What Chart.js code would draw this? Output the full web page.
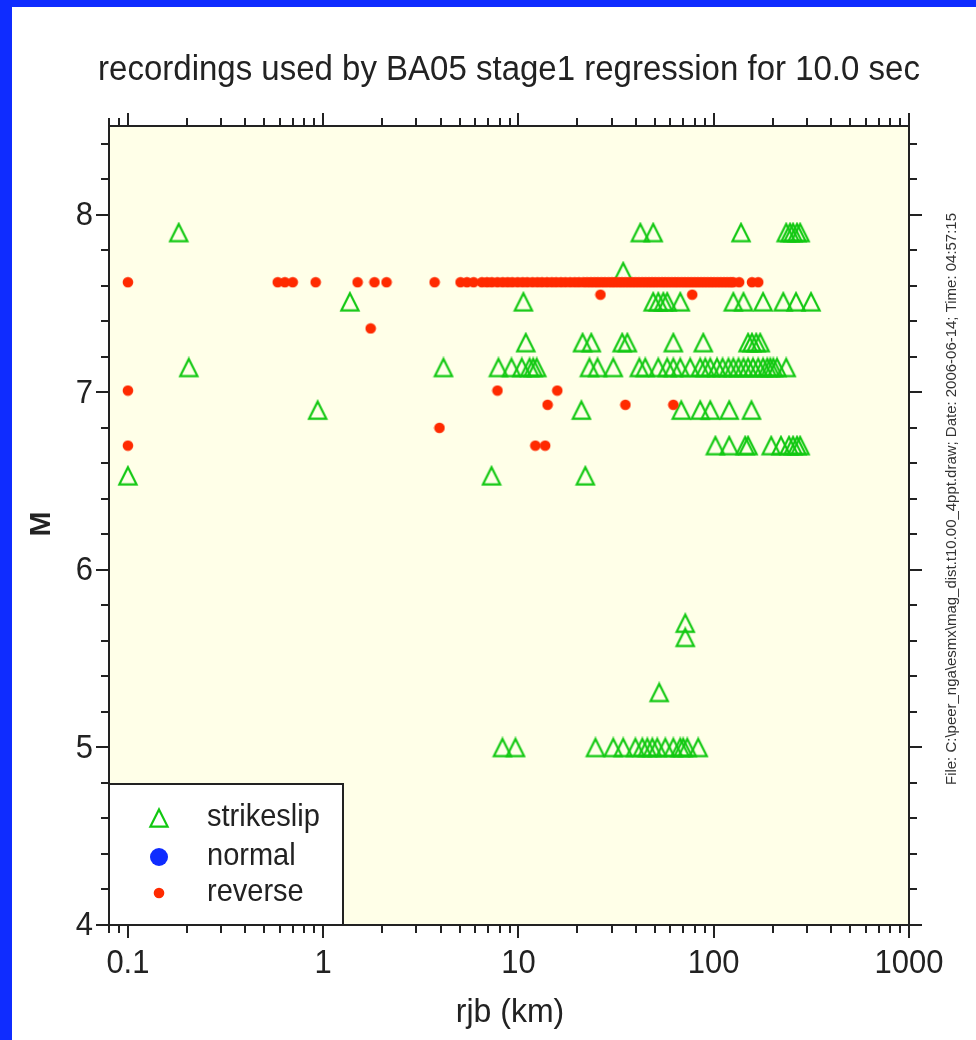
<!DOCTYPE html>
<html><head><meta charset="utf-8">
<script src="https://cdn.jsdelivr.net/npm/chart.js@4.4.1/dist/chart.umd.min.js"></script>
<style>html,body{margin:0;padding:0;background:#fff;}canvas{display:block;}</style>
</head><body>
<canvas id="c" width="976" height="1040"></canvas>
<script>
// ---- texts ----
const titleText = 'recordings used by BA05 stage1 regression for 10.0 sec';
const xAxisTitle = 'rjb (km)';
const yAxisTitle = 'M';
const sideNote = 'File: C:\\peer_nga\\esmx\\mag_dist.t10.00_4ppt.draw; Date: 2006-06-14; Time: 04:57:15';
const legendLabels = ['strikeslip', 'normal', 'reverse'];

// ---- tick labels ----
const xMajorTicks = [0.1, 1, 10, 100, 1000];
const xTickLabels = ['0.1', '1', '10', '100', '1000'];
const yMajorTicks = [4, 5, 6, 7, 8];
const yTickLabels = ['4', '5', '6', '7', '8'];

// ---- strikeslip: magnitude rows and rjb (km) per row ----
const strikeslipMag = [7.9, 7.68, 7.51, 7.28, 7.14, 6.9, 6.7, 6.53, 5.7, 5.62, 5.31, 5.0];
const strikeslipRjb = [
  [0.182, 42.1, 49.0, 138, 235, 246, 255, 267, 277],
  [34.4],
  [1.37, 10.6, 49.0, 52.0, 55.2, 57.8, 67.4, 126, 142, 179, 227, 264, 315],
  [10.9, 21.3, 23.6, 34.0, 36.1, 62.1, 88.4, 150, 157, 165, 173],
  [0.205, 4.13, 7.90, 9.21, 10.4, 11.4, 11.9, 12.4, 23.1, 25.4, 30.6, 41.6, 44.6, 52.0, 57.8, 62.1, 67.4, 75.8, 85.3, 90.5, 96.0, 104, 111, 119, 126, 134, 142, 150, 159, 169, 179, 188, 195, 202, 211, 235],
  [0.937, 21.0, 68.2, 85.3, 96.0, 120, 156],
  [102, 120, 145, 150, 197, 221, 243, 255, 267, 277],
  [0.1, 7.28, 22.0],
  [71.5],
  [71.5],
  [52.6],
  [8.28, 9.65, 24.8, 30.6, 34.4, 39.7, 43.1, 45.7, 48.5, 51.4, 56.5, 62.1, 67.4, 69.8, 73.2, 83.3]
];

// ---- normal: none plotted ----
const normalMag = [];
const normalRjb = [];

// ---- reverse: magnitude rows and rjb (km) per row ----
const reverseMag = [7.62, 7.55, 7.36, 7.01, 6.93, 6.8, 6.7];
const reverseRjb = [
  [0.1, 0.585, 0.636, 0.698, 0.915, 1.50, 1.83, 2.11, 3.72, 5.05, 5.45, 5.89, 6.5, 6.9, 7.3, 7.8, 8.3, 8.8, 9.3, 9.9, 10.5, 11.1, 11.8, 12.5, 13.2, 14.0, 14.8, 15.6, 16.5, 17.4, 18.4, 19.4, 20.4, 21.5, 22.5, 23.5, 24.5, 25.5, 26.6, 27.7, 28.9, 30.1, 31.3, 32.6, 33.9, 35.3, 36.7, 38.2, 39.7, 41.3, 43.0, 44.7, 46.5, 48.3, 50.2, 52.2, 54.3, 56.4, 58.6, 60.9, 63.3, 65.8, 68.4, 71.1, 73.9, 76.8, 79.8, 82.9, 86.2, 89.6, 93.1, 96.8, 100.6, 104.6, 108.7, 113, 117.4, 122, 125.8, 135, 157, 169],
  [26.3, 77.6],
  [1.75],
  [0.1, 7.81, 15.8],
  [14.1, 35.3, 62.1],
  [3.94],
  [0.1, 12.2, 13.7]
];

// ---- styling ----
const GREEN = '#11c811';
const RED = '#ff2a00';
const BLUE = '#0f2cff';
const INK = '#222222';
const FONT = '"Liberation Sans", Arial, Helvetica, sans-serif';

function toPoints(mags, rjbs) {
  const out = [];
  mags.forEach((m, i) => rjbs[i].forEach(r => out.push({ x: r, y: m })));
  return out;
}

function makeTriangle() {
  const c = document.createElement('canvas');
  c.width = 22; c.height = 22;
  const g = c.getContext('2d');
  g.strokeStyle = GREEN; g.lineWidth = 2.2; g.lineJoin = 'miter';
  g.beginPath();
  g.moveTo(11, 2.4); g.lineTo(19.6, 19.6); g.lineTo(2.4, 19.6); g.closePath();
  g.stroke();
  return c;
}
function makeDot() {
  const c = document.createElement('canvas');
  c.width = 12; c.height = 12;
  const g = c.getContext('2d');
  g.fillStyle = RED;
  g.beginPath(); g.arc(6, 6, 5.3, 0, Math.PI * 2); g.fill();
  return c;
}
const triImg = makeTriangle();
const dotImg = makeDot();

// text drawn with a slight vertical stretch, like the reference's narrow font
function tallText(ctx, text, x, y, sy) {
  ctx.save();
  ctx.translate(x, y);
  ctx.scale(1, sy);
  ctx.fillText(text, 0, 0);
  ctx.restore();
}

const framePlugin = {
  id: 'frame',
  beforeDraw(chart) {
    const { ctx, chartArea: a } = chart;
    ctx.save();
    ctx.fillStyle = '#ffffff';
    ctx.fillRect(0, 0, chart.width, chart.height);
    ctx.fillStyle = BLUE;
    ctx.fillRect(0, 0, 12, chart.height);
    ctx.fillRect(0, 0, chart.width, 7);
    ctx.fillStyle = '#ffffe8';
    ctx.fillRect(a.left, a.top, a.right - a.left, a.bottom - a.top);
    ctx.restore();
  },
  afterDraw(chart) {
    const { ctx, chartArea: a } = chart;
    const xs = chart.scales.x, ys = chart.scales.y;
    ctx.save();
    ctx.strokeStyle = INK;
    ctx.lineWidth = 2;
    const line = (x1, y1, x2, y2) => { ctx.beginPath(); ctx.moveTo(x1, y1); ctx.lineTo(x2, y2); ctx.stroke(); };

    // x ticks (log): minor 2..9 per decade, major at powers of ten
    for (let e = -2; e <= 2; e++) {
      for (let k = 1; k <= 9; k++) {
        const v = k * Math.pow(10, e);
        if (v < 0.0799 || v > 1000.1) continue;
        const len = (k === 1) ? 13 : 8;
        const px = Math.round(xs.getPixelForValue(v));
        line(px, a.top, px, a.top - len);
        line(px, a.bottom, px, a.bottom + len);
      }
    }
    { const px = Math.round(xs.getPixelForValue(1000)); line(px, a.top, px, a.top - 13); line(px, a.bottom, px, a.bottom + 13); }
    // y ticks: minor every 0.2, major every 1
    for (let i = 20; i <= 42; i++) {
      const v = i / 5;
      const len = (i % 5 === 0) ? 13 : 8;
      const py = Math.round(ys.getPixelForValue(v));
      line(a.left, py, a.left - len, py);
      line(a.right, py, a.right + len, py);
    }
    // frame
    ctx.strokeRect(a.left, a.top, a.right - a.left, a.bottom - a.top);

    // tick labels
    ctx.fillStyle = INK;
    ctx.font = '31px ' + FONT;
    ctx.textAlign = 'center';
    ctx.textBaseline = 'alphabetic';
    xMajorTicks.forEach((v, i) => tallText(ctx, xTickLabels[i], xs.getPixelForValue(v), 973, 1.1));
    ctx.textAlign = 'right';
    ctx.textBaseline = 'middle';
    yMajorTicks.forEach((v, i) => tallText(ctx, yTickLabels[i], 93, ys.getPixelForValue(v) + 1, 1.1));

    // title
    ctx.textAlign = 'center';
    ctx.textBaseline = 'alphabetic';
    ctx.font = '33px ' + FONT;
    tallText(ctx, titleText, 509, 80, 1.04);
    // x axis title
    ctx.font = '32px ' + FONT;
    tallText(ctx, xAxisTitle, 510, 1022, 1.06);
    // y axis title
    ctx.save();
    ctx.translate(42, 524);
    ctx.rotate(-Math.PI / 2);
    ctx.font = 'bold 30px ' + FONT;
    ctx.textBaseline = 'middle';
    ctx.fillText(yAxisTitle, 0, 0);
    ctx.restore();
    // side note
    ctx.save();
    ctx.translate(952, 499);
    ctx.rotate(-Math.PI / 2);
    ctx.font = '14px ' + FONT;
    ctx.fillStyle = '#333333';
    ctx.textBaseline = 'middle';
    const w = ctx.measureText(sideNote).width;
    ctx.scale(572 / w, 1);
    ctx.fillText(sideNote, 0, 0);
    ctx.restore();

    // legend box
    ctx.fillStyle = '#ffffff';
    ctx.fillRect(109, 784, 234, 141);
    ctx.strokeStyle = INK;
    ctx.lineWidth = 2;
    ctx.strokeRect(109, 784, 234, 141);
    const ly = [818, 857, 893];
    ctx.drawImage(triImg, 159 - 11, ly[0] - 11);
    ctx.fillStyle = BLUE;
    ctx.beginPath(); ctx.arc(159, ly[1], 9, 0, Math.PI * 2); ctx.fill();
    ctx.drawImage(dotImg, 159 - 6, ly[2] - 6);
    ctx.fillStyle = INK;
    ctx.font = '29px ' + FONT;
    ctx.textAlign = 'left';
    ctx.textBaseline = 'middle';
    legendLabels.forEach((t, i) => tallText(ctx, t, 207, ly[i], 1.05));
    ctx.restore();
  }
};

new Chart(document.getElementById('c'), {
  type: 'scatter',
  data: {
    datasets: [
      { label: legendLabels[0], data: toPoints(strikeslipMag, strikeslipRjb), pointStyle: triImg, pointRadius: 9, order: 2 },
      { label: legendLabels[1], data: toPoints(normalMag, normalRjb), pointStyle: 'circle', pointRadius: 9, backgroundColor: BLUE, borderColor: BLUE, order: 1 },
      { label: legendLabels[2], data: toPoints(reverseMag, reverseRjb), pointStyle: dotImg, pointRadius: 5, order: 0 }
    ]
  },
  options: {
    responsive: false,
    animation: false,
    events: [],
    layout: { padding: { left: 109, top: 126, right: 67, bottom: 115 } },
    scales: {
      x: { type: 'logarithmic', min: 0.08, max: 1000, bounds: 'data', display: false },
      y: { type: 'linear', min: 4, max: 8.5, display: false }
    },
    plugins: { legend: { display: false }, tooltip: { enabled: false }, title: { display: false } }
  },
  plugins: [framePlugin]
});
</script>
</body></html>
